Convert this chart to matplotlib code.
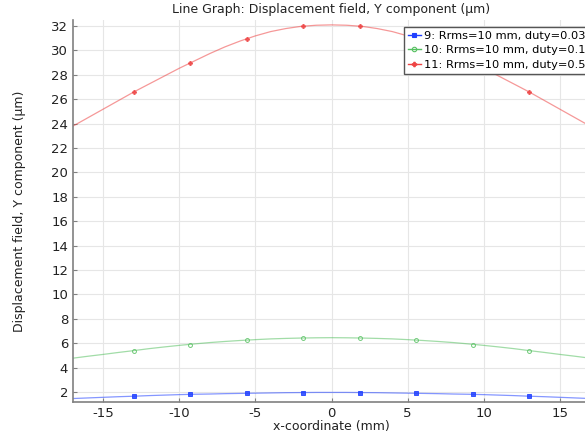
import matplotlib
matplotlib.use("Agg")
import matplotlib.pyplot as plt

x_line = [-17, -16, -15, -14, -13, -12, -11, -10, -9, -8, -7, -6, -5, -4, -3, -2, -1, 0,
          1, 2, 3, 4, 5, 6, 7, 8, 9, 10, 11, 12, 13, 14, 15, 16, 17]
red_line = [23.8, 24.5, 25.2, 25.9, 26.6, 27.25, 27.9, 28.55, 29.15, 29.75, 30.3, 30.78, 31.2, 31.55, 31.8, 31.98, 32.07, 32.1,
            32.07, 31.98, 31.8, 31.55, 31.2, 30.78, 30.3, 29.75, 29.15, 28.55, 27.9, 27.25, 26.6, 25.9, 25.2, 24.5, 23.8]
green_line = [4.77, 4.93, 5.08, 5.24, 5.39, 5.55, 5.69, 5.82, 5.94, 6.05, 6.14, 6.22, 6.29, 6.35, 6.39, 6.42, 6.44, 6.45,
              6.44, 6.42, 6.39, 6.35, 6.29, 6.22, 6.14, 6.05, 5.94, 5.82, 5.69, 5.55, 5.39, 5.24, 5.08, 4.93, 4.77]
blue_line = [1.46, 1.51, 1.56, 1.61, 1.65, 1.70, 1.74, 1.78, 1.81, 1.83, 1.86, 1.88, 1.90, 1.92, 1.94, 1.95, 1.96, 1.96,
             1.96, 1.95, 1.94, 1.92, 1.90, 1.88, 1.86, 1.83, 1.81, 1.78, 1.74, 1.70, 1.65, 1.61, 1.56, 1.51, 1.46]

x_mark = [-13.0, -9.29, -5.57, -1.86, 1.86, 5.57, 9.29, 13.0]
red_mark = [26.6, 29.0, 30.93, 32.0, 32.0, 30.93, 29.0, 26.6]
green_mark = [5.37, 5.86, 6.22, 6.42, 6.42, 6.22, 5.86, 5.37]
blue_mark = [1.65, 1.80, 1.89, 1.95, 1.95, 1.89, 1.80, 1.65]

labels = ["9: Rrms=10 mm, duty=0.03", "10: Rrms=10 mm, duty=0.1", "11: Rrms=10 mm, duty=0.5"]
x_ticks = [-15, -10, -5, 0, 5, 10, 15]
y_ticks = list(range(2, 33, 2))

fig = plt.figure(figsize=(5.85, 4.33), dpi=100)
W, H = 585, 433
ax = fig.add_axes([73 / W, 1 - 401.7 / H, (590 - 73) / W, (401.7 - 20) / H])

series = [
    (blue_line, blue_mark, "#2040ff", "s", labels[0], dict(mfc="#2040ff")),
    (green_line, green_mark, "#55c060", "o", labels[1], dict(mfc="none")),
    (red_line, red_mark, "#ee4444", "P", labels[2], dict(mfc="#ee4444")),
]
for yl, ym, c, m, lab, extra in series:
    ax.plot(x_line, yl, color=c, lw=0.9, alpha=0.55, zorder=2)
    ax.plot(x_mark, ym, ls="none", marker=m, ms=2.8, color=c, mec=c, mew=0.7, alpha=0.85, zorder=3, **extra)
    ax.plot([], [], color=c, lw=1.0, marker=m, ms=3.2, mec=c, mew=0.8, label=lab, **extra)

ax.set_xlim(-17, 17)
ax.set_ylim(1.2, 32.5)
ax.set_xticks(x_ticks)
ax.set_xticklabels([str(t) if t >= 0 else "-" + str(-t) for t in x_ticks])
ax.set_yticks(y_ticks)
ax.grid(True, color="#e6e6e6", lw=0.8)
ax.set_axisbelow(True)
for s in ["top", "right"]:
    ax.spines[s].set_visible(False)
for s in ["left", "bottom"]:
    ax.spines[s].set_color("#808080")
    ax.spines[s].set_linewidth(1.2)
ax.tick_params(labelsize=9.5, colors="#222222", length=3, width=0.8, direction="in")
ax.tick_params(axis="both", color="#808080")

ax.set_xlabel("x-coordinate (mm)", fontsize=9, color="#222222", labelpad=0)
ax.set_ylabel("Displacement field, Y component (µm)", fontsize=9, color="#222222", labelpad=18)
fig.text(331 / W, 1 - 10 / H, "Line Graph: Displacement field, Y component (µm)", ha="center", va="center",
         fontsize=9, color="#222222")

leg = ax.legend(loc="upper left", bbox_to_anchor=((404 - 73) / (590 - 73), 1 - 7 / 381.7), fontsize=8.2,
                frameon=True, fancybox=False, handlelength=1.1, handletextpad=0.3, borderpad=0.35,
                labelspacing=0.38, borderaxespad=0, framealpha=1)
leg.get_frame().set_edgecolor("#555555")
leg.get_frame().set_linewidth(1.0)

fig.savefig("out.png", dpi=100)
